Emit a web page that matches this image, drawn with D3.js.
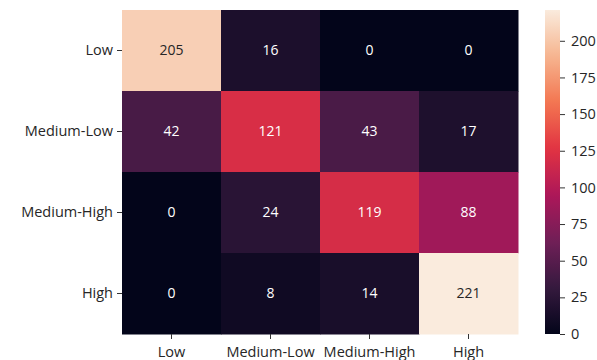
<!DOCTYPE html>
<html>
<head>
<meta charset="utf-8">
<script src="https://cdn.jsdelivr.net/npm/d3@7"></script>
<style>
  body { margin: 0; background: #fff; }
  svg { display: block; font-family: "Open Sans", sans-serif; }
</style>
</head>
<body>
<div class="container"></div>
<script>
const labels = ["Low", "Medium-Low", "Medium-High", "High"];
const rowLow = [205, 16, 0, 0];
const rowMedLow = [42, 121, 43, 17];
const rowMedHigh = [0, 24, 119, 88];
const rowHigh = [0, 8, 14, 221];
const matrix = [rowLow, rowMedLow, rowMedHigh, rowHigh];
const cbarTicks = [0, 25, 50, 75, 100, 125, 150, 175, 200];

// rocket colormap samples
const rocketStops = ["#03051a", "#35193e", "#701f57", "#ad1759", "#e13342", "#f37651", "#f6b48f", "#faebdd"];

const w = 597, h = 360;
const margin = { top: 10, left: 122, right: 79, bottom: 26 };

const cells = [];
matrix.forEach((row, i) => row.forEach((v, j) => cells.push({ r: labels[i], c: labels[j], v })));

const vmax = d3.max(cells, d => d.v);

const color = d3.scaleLinear()
  .domain(rocketStops.map((_, i) => i / (rocketStops.length - 1) * vmax))
  .range(rocketStops)
  .interpolate(d3.interpolateRgb);

const xScale = d3.scaleBand().domain(labels).range([margin.left, 518]);
const yScale = d3.scaleBand().domain(labels).range([margin.top, h - margin.bottom]);

const svg = d3.select(".container")
  .append("svg")
  .attr("width", w)
  .attr("height", h);

svg.append("g")
  .selectAll("rect")
  .data(cells)
  .join("rect")
  .attr("x", d => xScale(d.c))
  .attr("y", d => yScale(d.r))
  .attr("width", xScale.bandwidth() + 0.5)
  .attr("height", yScale.bandwidth() + 0.5)
  .attr("fill", d => color(d.v));

function lum(c) {
  const rgb = d3.rgb(c);
  const f = x => { x /= 255; return x <= 0.03928 ? x / 12.92 : Math.pow((x + 0.055) / 1.055, 2.4); };
  return 0.2126 * f(rgb.r) + 0.7152 * f(rgb.g) + 0.0722 * f(rgb.b);
}

svg.append("g")
  .selectAll("text")
  .data(cells)
  .join("text")
  .attr("x", d => xScale(d.c) + xScale.bandwidth() / 2)
  .attr("y", d => yScale(d.r) + yScale.bandwidth() / 2)
  .attr("text-anchor", "middle")
  .attr("dy", "0.35em")
  .attr("font-size", 14)
  .attr("fill", d => lum(color(d.v)) > 0.408 ? "#262626" : "#ffffff")
  .text(d => d.v);

// axes
const xAxis = svg.append("g")
  .attr("transform", `translate(0, ${h - margin.bottom})`)
  .call(d3.axisBottom(xScale).tickSize(5).tickPadding(8));
const yAxis = svg.append("g")
  .attr("transform", `translate(${margin.left}, 0)`)
  .call(d3.axisLeft(yScale).tickSize(5).tickPadding(4));

[xAxis, yAxis].forEach(g => {
  g.select(".domain").remove();
  g.selectAll(".tick line").attr("stroke", "#333").attr("stroke-width", 1);
  g.selectAll(".tick text").attr("font-size", 14.5).attr("fill", "#262626")
    .attr("font-family", "Open Sans, sans-serif");
});

// colorbar
const cbX = 545, cbW = 15;
const cbScale = d3.scaleLinear().domain([0, vmax]).range([h - margin.bottom, margin.top]);

const grad = svg.append("defs").append("linearGradient")
  .attr("id", "cbgrad")
  .attr("x1", 0).attr("y1", 1).attr("x2", 0).attr("y2", 0);
grad.selectAll("stop")
  .data(d3.range(0, 1.0001, 0.02))
  .join("stop")
  .attr("offset", d => d)
  .attr("stop-color", d => color(d * vmax));

svg.append("rect")
  .attr("x", cbX)
  .attr("y", margin.top)
  .attr("width", cbW)
  .attr("height", h - margin.bottom - margin.top)
  .attr("fill", "url(#cbgrad)");

const cAxis = svg.append("g")
  .attr("transform", `translate(${cbX + cbW}, 0)`)
  .call(d3.axisRight(cbScale).tickValues(cbarTicks).tickSize(5).tickPadding(6));
cAxis.select(".domain").remove();
cAxis.selectAll(".tick line").attr("stroke", "#333");
cAxis.selectAll(".tick text").attr("font-size", 14.5).attr("fill", "#262626")
  .attr("font-family", "Open Sans, sans-serif");
</script>
</body>
</html>
